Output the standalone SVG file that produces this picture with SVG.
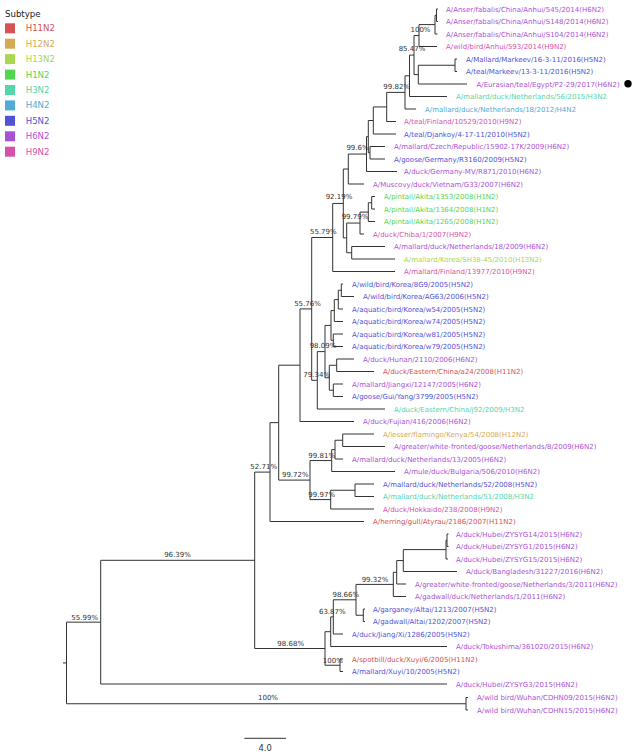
<svg xmlns="http://www.w3.org/2000/svg" width="636" height="756" viewBox="0 0 636 756">
<style>
.br{stroke:#333;stroke-width:1;fill:none}
text{font-family:"DejaVu Sans",Verdana,sans-serif}
.lf{font-size:7px}
.sup{font-size:7px;fill:#333;text-anchor:middle}
.lg{font-size:8.6px}
.H11{fill:#d65252}.H12{fill:#d6aa52}.H13{fill:#aad652}.H1{fill:#52d652}.H3{fill:#52d6aa}.H4{fill:#52aad6}.H5{fill:#5252d6}.H6{fill:#aa52d6}.H9{fill:#d652aa}
</style>
<rect width="636" height="756" fill="#fff"/>
<g id="legend">
<text class="lg" x="5" y="17" fill="#222">Subtype</text>
<g id="lg-H11N2"><rect x="5" y="23.3" width="10" height="10" class="H11"/><text class="lg H11" x="25.7" y="31.3">H11N2</text></g>
<g id="lg-H12N2"><rect x="5" y="38.7" width="10" height="10" class="H12"/><text class="lg H12" x="25.7" y="46.7">H12N2</text></g>
<g id="lg-H13N2"><rect x="5" y="54.1" width="10" height="10" class="H13"/><text class="lg H13" x="25.7" y="62.1">H13N2</text></g>
<g id="lg-H1N2"><rect x="5" y="69.6" width="10" height="10" class="H1"/><text class="lg H1" x="25.7" y="77.6">H1N2</text></g>
<g id="lg-H3N2"><rect x="5" y="85" width="10" height="10" class="H3"/><text class="lg H3" x="25.7" y="93">H3N2</text></g>
<g id="lg-H4N2"><rect x="5" y="100.4" width="10" height="10" class="H4"/><text class="lg H4" x="25.7" y="108.4">H4N2</text></g>
<g id="lg-H5N2"><rect x="5" y="115.8" width="10" height="10" class="H5"/><text class="lg H5" x="25.7" y="123.8">H5N2</text></g>
<g id="lg-H6N2"><rect x="5" y="131.3" width="10" height="10" class="H6"/><text class="lg H6" x="25.7" y="139.3">H6N2</text></g>
<g id="lg-H9N2"><rect x="5" y="146.7" width="10" height="10" class="H9"/><text class="lg H9" x="25.7" y="154.7">H9N2</text></g>
</g>
<g id="connectors" class="br">
<path d="M63 662.95H66.5M66.5 622.15V703.75M66.5 622.15H100.7M66.5 703.75H466"/>
<path d="M466 697.5V710M466 697.5H468M466 710H468"/>
<path d="M100.7 560.3V684M100.7 560.3H254.7M100.7 684H447"/>
<path d="M254.7 472.1V648.5M254.7 472.1H270M254.7 648.5H325"/>
<path d="M325 631.7V665.25M325 631.7H330.7M325 665.25H340"/>
<path d="M340 659V671.5M340 659H343M340 671.5H343"/>
<path d="M330.7 616.9V646.5M330.7 616.9H333.3M330.7 646.5H447"/>
<path d="M333.3 599.8V634M333.3 599.8H356M333.3 634H343"/>
<path d="M356 584.4V615.25M356 584.4H393.3M356 615.25H363.3"/>
<path d="M363.3 609V621.5M363.3 609H365M363.3 621.5H365"/>
<path d="M393.3 572.3V596.5M393.3 572.3H396.7M393.3 596.5H406"/>
<path d="M396.7 560.55V584M396.7 560.55H403.3M396.7 584H406"/>
<path d="M403.3 549.6V571.5M403.3 549.6H446M403.3 571.5H457"/>
<path d="M446 540.25V559M446 540.25H447M446 559H448"/>
<path d="M447 534V546.5M447 534H448.5M447 546.5H448.5"/>
<path d="M270 422.65V521.5M270 422.65H278.7M270 521.5H364"/>
<path d="M278.7 365.2V480.1M278.7 365.2H300M278.7 480.1H310"/>
<path d="M310 460.55V499.6M310 460.55H331.7M310 499.6H330.7"/>
<path d="M331.7 449.6V471.5M331.7 449.6H335M331.7 471.5H395"/>
<path d="M335 440.25V459M335 440.25H342.7M335 459H343"/>
<path d="M342.7 434V446.5M342.7 434H374M342.7 446.5H385"/>
<path d="M330.7 490.25V509M330.7 490.25H355M330.7 509H374"/>
<path d="M355 484V496.5M355 484H374M355 496.5H374"/>
<path d="M300 308.9V421.5M300 308.9H311.7M300 421.5H354"/>
<path d="M311.7 237.5V380.3M311.7 237.5H332.7M311.7 380.3H317.3"/>
<path d="M317.3 351.6V409M317.3 351.6H325M317.3 409H385"/>
<path d="M325 325.4V377.75M325 325.4H331M325 377.75H329.3"/>
<path d="M331 310.55V340.25M331 310.55H334.3M331 340.25H333.3"/>
<path d="M334.3 299.6V321.5M334.3 299.6H338.3M334.3 321.5H343"/>
<path d="M338.3 290.25V309M338.3 290.25H341.3M338.3 309H343"/>
<path d="M341.3 284V296.5M341.3 284H343M341.3 296.5H354"/>
<path d="M333.3 334V346.5M333.3 334H343M333.3 346.5H343"/>
<path d="M329.3 365.25V390.25M329.3 365.25H336.7M329.3 390.25H333.3"/>
<path d="M336.7 359V371.5M336.7 359H354M336.7 371.5H374"/>
<path d="M333.3 384V396.5M333.3 384H343M333.3 396.5H343"/>
<path d="M332.7 203.45V271.5M332.7 203.45H343.3M332.7 271.5H395"/>
<path d="M343.3 169V237.9M343.3 169H348.3M343.3 237.9H346.7"/>
<path d="M346.7 223.05V252.75M346.7 223.05H360M346.7 252.75H351.7"/>
<path d="M351.7 246.5V259M351.7 246.5H385M351.7 259H395"/>
<path d="M360 212.1V234M360 212.1H368.3M360 234H364"/>
<path d="M368.3 202.75V221.5M368.3 202.75H371.7M368.3 221.5H375"/>
<path d="M371.7 196.5V209M371.7 196.5H375M371.7 209H375"/>
<path d="M348.3 154.05V184M348.3 154.05H366.5M348.3 184H364"/>
<path d="M366.5 136.6V171.5M366.5 136.6H368.3M366.5 171.5H397"/>
<path d="M368.3 120.5V152.75M368.3 120.5H373.3M368.3 152.75H370"/>
<path d="M370 146.5V159M370 146.5H385M370 159H385"/>
<path d="M373.3 106.95V134M373.3 106.95H386.7M373.3 134H396"/>
<path d="M386.7 92.4V121.5M386.7 92.4H405M386.7 121.5H396"/>
<path d="M405 75.8V109M405 75.8H409.5M405 109H416"/>
<path d="M409.5 55.1V96.5M409.5 55.1H414M409.5 96.5H447"/>
<path d="M414 35.55V74.6M414 35.55H419M414 74.6H418.3"/>
<path d="M419 24.6V46.5M419 24.6H435M419 46.5H437"/>
<path d="M435 15.25V34M435 15.25H436.5M435 34H437.5"/>
<path d="M436.5 9V21.5M436.5 9H438M436.5 21.5H438"/>
<path d="M418.3 65.25V84M418.3 65.25H455M418.3 84H467"/>
<path d="M455 59V71.5M455 59H457M455 71.5H457"/>
<path d="M244.3 738.3H286"/>
</g>
<g id="support">
<text class="sup" x="420.5" y="31.5">100%</text>
<text class="sup" x="412" y="50.8">85.47%</text>
<text class="sup" x="396.7" y="88.5">99.82%</text>
<text class="sup" x="357.5" y="149.8">99.6%</text>
<text class="sup" x="339" y="199.2">92.19%</text>
<text class="sup" x="355" y="219.2">99.79%</text>
<text class="sup" x="323.3" y="233.5">55.79%</text>
<text class="sup" x="307.5" y="305.5">55.76%</text>
<text class="sup" x="323" y="348">98.09%</text>
<text class="sup" x="316.7" y="376.8">79.34%</text>
<text class="sup" x="321.7" y="457.5">99.81%</text>
<text class="sup" x="263.7" y="469.2">52.71%</text>
<text class="sup" x="295.3" y="477.2">99.72%</text>
<text class="sup" x="321.7" y="496.5">99.97%</text>
<text class="sup" x="177.5" y="557.2">96.39%</text>
<text class="sup" x="375" y="581.5">99.32%</text>
<text class="sup" x="345.8" y="596.8">98.66%</text>
<text class="sup" x="332.3" y="614.2">63.87%</text>
<text class="sup" x="84.7" y="619.5">55.99%</text>
<text class="sup" x="290.7" y="645.8">98.68%</text>
<text class="sup" x="332.8" y="662.5">100%</text>
<text class="sup" x="268" y="700.2">100%</text>
<text x="265.2" y="751.3" font-size="8.4" fill="#333" text-anchor="middle">4.0</text>
</g>
<g id="leaves" class="lf">
<g id="leaf-1"><text class="H6" x="446" y="11.5">A/Anser/fabalis/China/Anhui/545/2014(H6N2)</text></g>
<g id="leaf-2"><text class="H6" x="446" y="24">A/Anser/fabalis/China/Anhui/S148/2014(H6N2)</text></g>
<g id="leaf-3"><text class="H6" x="446" y="36.5">A/Anser/fabalis/China/Anhui/S104/2014(H6N2)</text></g>
<g id="leaf-4"><text class="H9" x="446" y="49">A/wild/bird/Anhui/593/2014(H9N2)</text></g>
<g id="leaf-5"><text class="H5" x="466" y="61.5">A/Mallard/Markeev/16-3-11/2016(H5N2)</text></g>
<g id="leaf-6"><text class="H5" x="466" y="74">A/teal/Markeev/13-3-11/2016(H5N2)</text></g>
<g id="leaf-7"><text class="H6" x="476.5" y="86.5">A/Eurasian/teal/Egypt/P2-29/2017(H6N2)</text><circle cx="628" cy="83.7" r="3.7" fill="#000"/></g>
<g id="leaf-8"><text class="H3" x="456" y="99">A/mallard/duck/Netherlands/56/2015/H3N2</text></g>
<g id="leaf-9"><text class="H4" x="425" y="111.5">A/mallard/duck/Netherlands/18/2012/H4N2</text></g>
<g id="leaf-10"><text class="H9" x="404" y="124">A/teal/Finland/10529/2010(H9N2)</text></g>
<g id="leaf-11"><text class="H5" x="404" y="136.5">A/teal/Djankoy/4-17-11/2010(H5N2)</text></g>
<g id="leaf-12"><text class="H6" x="394" y="149">A/mallard/Czech/Republic/15902-17K/2009(H6N2)</text></g>
<g id="leaf-13"><text class="H5" x="394" y="161.5">A/goose/Germany/R3160/2009(H5N2)</text></g>
<g id="leaf-14"><text class="H6" x="404" y="174">A/duck/Germany-MV/R871/2010(H6N2)</text></g>
<g id="leaf-15"><text class="H6" x="373" y="186.5">A/Muscovy/duck/Vietnam/G33/2007(H6N2)</text></g>
<g id="leaf-16"><text class="H1" x="384" y="199">A/pintail/Akita/1353/2008(H1N2)</text></g>
<g id="leaf-17"><text class="H1" x="384" y="211.5">A/pintail/Akita/1364/2008(H1N2)</text></g>
<g id="leaf-18"><text class="H1" x="384" y="224">A/pintail/Akita/1265/2008(H1N2)</text></g>
<g id="leaf-19"><text class="H9" x="373" y="236.5">A/duck/Chiba/1/2007(H9N2)</text></g>
<g id="leaf-20"><text class="H6" x="394" y="249">A/mallard/duck/Netherlands/18/2009(H6N2)</text></g>
<g id="leaf-21"><text class="H13" x="404" y="261.5">A/mallard/Korea/SH38-45/2010(H13N2)</text></g>
<g id="leaf-22"><text class="H9" x="404" y="274">A/mallard/Finland/13977/2010(H9N2)</text></g>
<g id="leaf-23"><text class="H5" x="352" y="286.5">A/wild/bird/Korea/8G9/2005(H5N2)</text></g>
<g id="leaf-24"><text class="H5" x="363" y="299">A/wild/bird/Korea/AG63/2006(H5N2)</text></g>
<g id="leaf-25"><text class="H5" x="352" y="311.5">A/aquatic/bird/Korea/w54/2005(H5N2)</text></g>
<g id="leaf-26"><text class="H5" x="352" y="324">A/aquatic/bird/Korea/w74/2005(H5N2)</text></g>
<g id="leaf-27"><text class="H5" x="352" y="336.5">A/aquatic/bird/Korea/w81/2005(H5N2)</text></g>
<g id="leaf-28"><text class="H5" x="352" y="349">A/aquatic/bird/Korea/w79/2005(H5N2)</text></g>
<g id="leaf-29"><text class="H6" x="363" y="361.5">A/duck/Hunan/2110/2006(H6N2)</text></g>
<g id="leaf-30"><text class="H11" x="383" y="374">A/duck/Eastern/China/a24/2008(H11N2)</text></g>
<g id="leaf-31"><text class="H6" x="352" y="386.5">A/mallard/Jiangxi/12147/2005(H6N2)</text></g>
<g id="leaf-32"><text class="H5" x="352" y="399">A/goose/Gui/Yang/3799/2005(H5N2)</text></g>
<g id="leaf-33"><text class="H3" x="394" y="411.5">A/duck/Eastern/China/j92/2009/H3N2</text></g>
<g id="leaf-34"><text class="H6" x="363" y="424">A/duck/Fujian/416/2006(H6N2)</text></g>
<g id="leaf-35"><text class="H12" x="383" y="436.5">A/lesser/flamingo/Kenya/54/2008(H12N2)</text></g>
<g id="leaf-36"><text class="H6" x="394" y="449">A/greater/white-fronted/goose/Netherlands/8/2009(H6N2)</text></g>
<g id="leaf-37"><text class="H6" x="352" y="461.5">A/mallard/duck/Netherlands/13/2005(H6N2)</text></g>
<g id="leaf-38"><text class="H6" x="404" y="474">A/mule/duck/Bulgaria/506/2010(H6N2)</text></g>
<g id="leaf-39"><text class="H5" x="383" y="486.5">A/mallard/duck/Netherlands/52/2008(H5N2)</text></g>
<g id="leaf-40"><text class="H3" x="383" y="499">A/mallard/duck/Netherlands/51/2008/H3N2</text></g>
<g id="leaf-41"><text class="H9" x="383" y="511.5">A/duck/Hokkaido/238/2008(H9N2)</text></g>
<g id="leaf-42"><text class="H11" x="373" y="524">A/herring/gull/Atyrau/2186/2007(H11N2)</text></g>
<g id="leaf-43"><text class="H6" x="456" y="536.5">A/duck/Hubei/ZYSYG14/2015(H6N2)</text></g>
<g id="leaf-44"><text class="H6" x="456" y="549">A/duck/Hubei/ZYSYG1/2015(H6N2)</text></g>
<g id="leaf-45"><text class="H6" x="456" y="561.5">A/duck/Hubei/ZYSYG15/2015(H6N2)</text></g>
<g id="leaf-46"><text class="H6" x="466" y="574">A/duck/Bangladesh/31227/2016(H6N2)</text></g>
<g id="leaf-47"><text class="H6" x="415" y="586.5">A/greater/white-fronted/goose/Netherlands/3/2011(H6N2)</text></g>
<g id="leaf-48"><text class="H6" x="415" y="599">A/gadwall/duck/Netherlands/1/2011(H6N2)</text></g>
<g id="leaf-49"><text class="H5" x="373" y="611.5">A/garganey/Altai/1213/2007(H5N2)</text></g>
<g id="leaf-50"><text class="H5" x="373" y="624">A/gadwall/Altai/1202/2007(H5N2)</text></g>
<g id="leaf-51"><text class="H5" x="352" y="636.5">A/duck/Jiang/Xi/1286/2005(H5N2)</text></g>
<g id="leaf-52"><text class="H6" x="456" y="649">A/duck/Tokushima/361020/2015(H6N2)</text></g>
<g id="leaf-53"><text class="H11" x="352" y="661.5">A/spotbill/duck/Xuyi/6/2005(H11N2)</text></g>
<g id="leaf-54"><text class="H5" x="352" y="674">A/mallard/Xuyi/10/2005(H5N2)</text></g>
<g id="leaf-55"><text class="H6" x="456" y="686.5">A/duck/Hubei/ZYSYG3/2015(H6N2)</text></g>
<g id="leaf-56"><text class="H6" x="477" y="700">A/wild bird/Wuhan/CDHN09/2015(H6N2)</text></g>
<g id="leaf-57"><text class="H6" x="477" y="712.5">A/wild bird/Wuhan/CDHN15/2015(H6N2)</text></g>
</g>
</svg>
